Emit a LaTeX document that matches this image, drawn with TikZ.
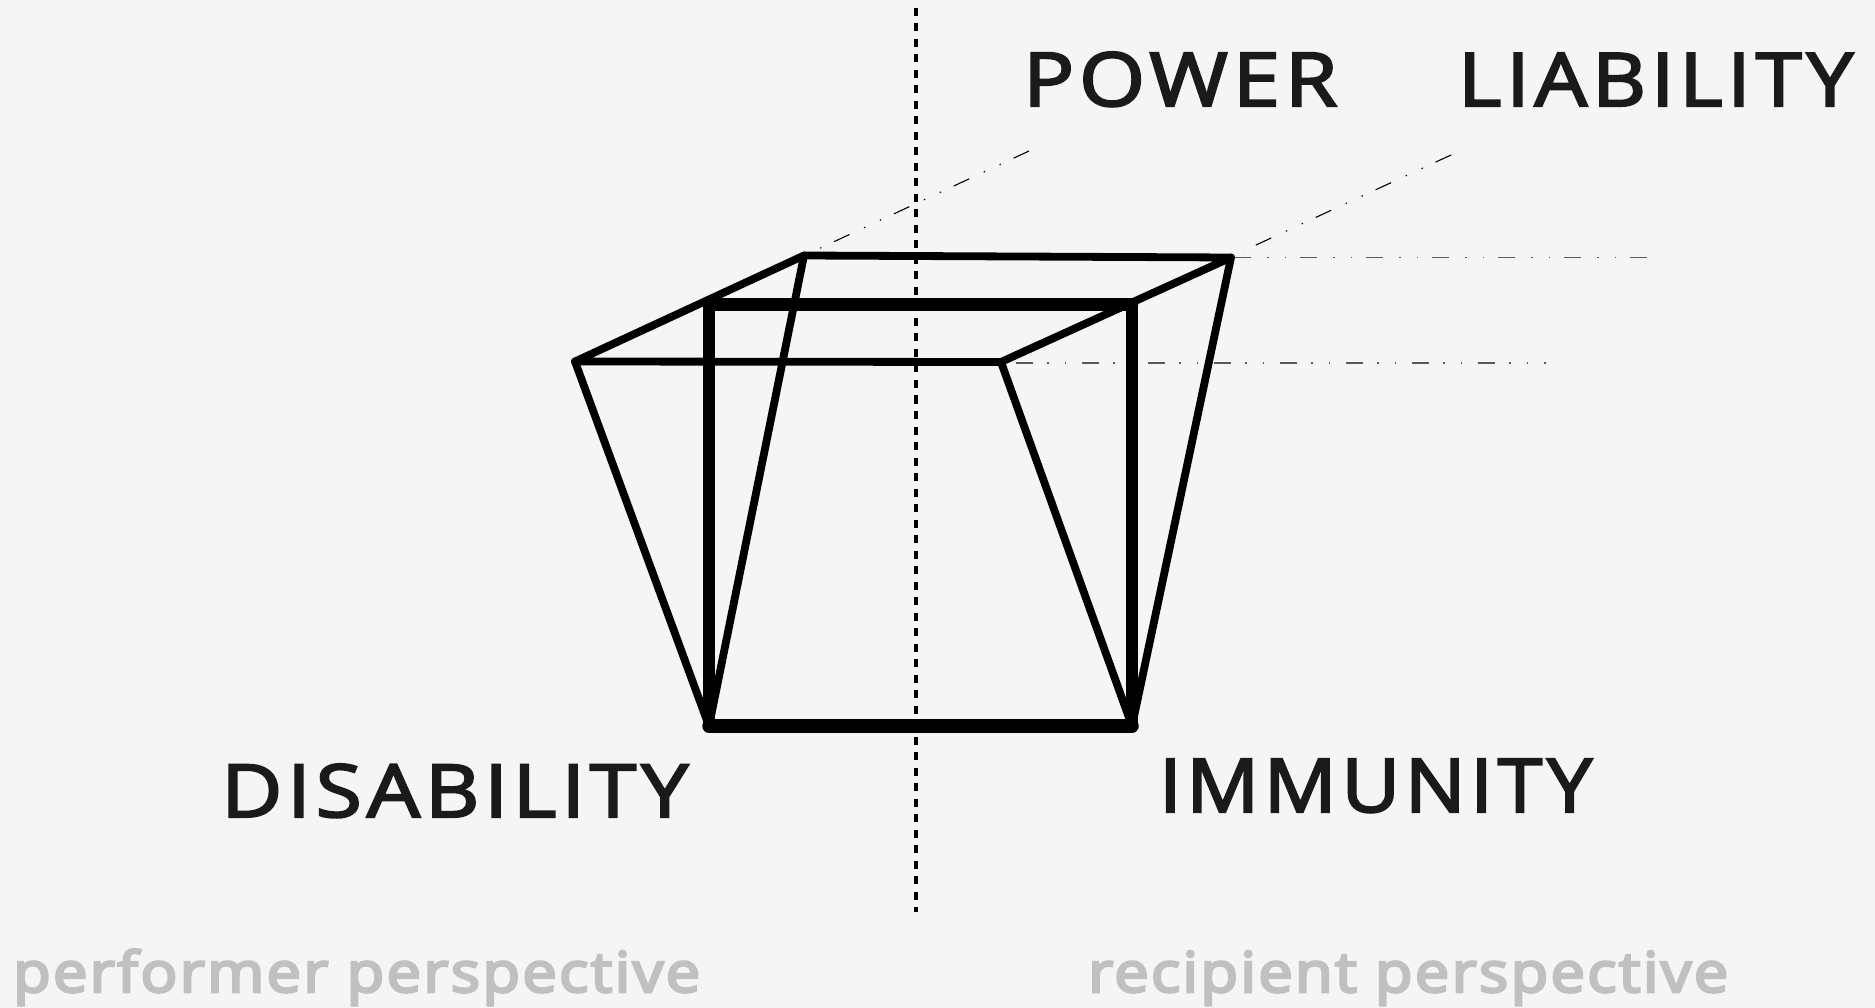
\documentclass[tikz,border=0pt]{standalone}
\usepackage{fontspec}
\usepackage{graphicx}
\setmainfont{Open Sans}
\newfontfamily\capsfont[FakeBold=2.8,LetterSpace=6,Kerning=Off]{Open Sans}
\newfontfamily\softfont[FakeBold=4.5,LetterSpace=4]{Open Sans}
\definecolor{bgc}{HTML}{F5F5F5}
\definecolor{inkc}{HTML}{1A1A1A}
\definecolor{softc}{HTML}{C0C0C0}
\newcommand{\capfit}[3]{\resizebox{#1pt}{#2pt}{\capsfont #3}}
\newcommand{\softfit}[2]{\resizebox{#1pt}{\height}{\softfont\fontsize{56}{60}\selectfont #2}}
\tikzset{
  thinedge/.style={line width=7.8pt,line cap=round,line join=round},
  thickedge/.style={line width=12.5pt,line cap=round},
  axisline/.style={line width=4pt,dash pattern=on 8pt off 7.5pt},
  traceline/.style={line width=1.1pt,dash pattern=on 17pt off 14pt on 1.5pt off 16pt on 1.5pt off 16pt},
  traceflat/.style={line width=1.6pt,draw=black!65,dash pattern=on 17pt off 14pt on 1.5pt off 16pt on 1.5pt off 16pt},
  bigword/.style={inner sep=0pt,anchor=base west,text=inkc},
  softword/.style={inner sep=0pt,anchor=base west,text=softc},
}
\begin{document}
\begin{tikzpicture}[x=1pt,y=-1pt]
\useasboundingbox[fill=bgc] (0,0) rectangle (1875,1008);
\coordinate (axT) at (915.5,8);
\coordinate (axB) at (915.5,912);
\coordinate (FL) at (709,304.5);
\coordinate (FR) at (1132,304.5);
\coordinate (BL) at (709,726);
\coordinate (BR) at (1132,726);
\coordinate (WL) at (575,361.5);
\coordinate (WR) at (1001,362);
\coordinate (TL) at (804,255.5);
\coordinate (TR) at (1231,257.5);
\coordinate (d1a) at (814,251);
\coordinate (d1b) at (1029,151);
\coordinate (d2a) at (1243,251);
\coordinate (d2b) at (1451,155);
\coordinate (h1a) at (1235,257.5);
\coordinate (h1b) at (1647,257.5);
\coordinate (h2a) at (1016,363);
\coordinate (h2b) at (1546,363);

\draw[axisline] (axT) -- (axB);
\draw[traceline] (d1b) -- (d1a);
\draw[traceline] (d2b) -- (d2a);
\draw[traceflat] (h1b) -- (h1a);
\draw[traceflat] (h2a) -- (h2b);

\draw[thickedge] (FL) -- (BL);
\draw[thickedge] (FR) -- (BR);
\draw[thickedge] (FL) -- (FR);
\draw[line width=13.5pt,line cap=round] (BL) -- (BR);

\draw[thinedge] (WL) -- (TL) -- (TR) -- (WR) -- (WL);
\draw[thinedge] (WL) -- (BL);
\draw[thinedge] (WR) -- (BR);
\draw[thinedge] (TL) -- (BL);
\draw[thinedge] (TR) -- (BR);

\node[bigword] (power) at (1023,106) {\capfit{314}{54}{POWER}};
\node[bigword] (liability) at (1458,106) {\capfit{395}{53}{LIABILITY}};
\node[bigword] (disability) at (221,817) {\capfit{467}{53}{DISABILITY}};
\node[bigword] (immunity) at (1159,812) {\capfit{433}{53}{IMMUNITY}};
\node[softword] (performer) at (13,992) {\softfit{687}{performer perspective}};
\node[softword] (recipient) at (1088,992) {\softfit{640}{recipient perspective}};
\end{tikzpicture}
\end{document}
